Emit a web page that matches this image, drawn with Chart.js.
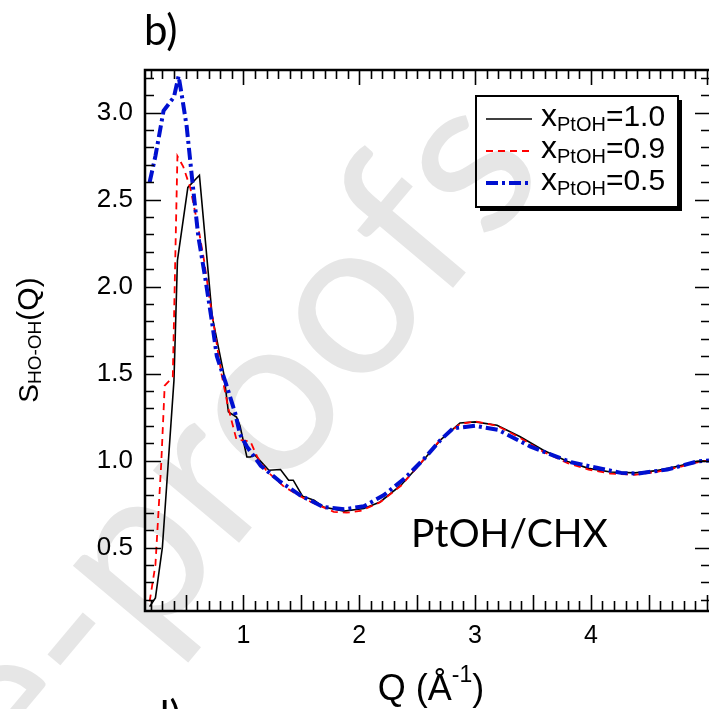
<!DOCTYPE html>
<html>
<head>
<meta charset="utf-8">
<script src="https://cdn.jsdelivr.net/npm/chart.js@4.4.0/dist/chart.umd.min.js"></script>
<style>
  html, body { margin: 0; padding: 0; background: #fff; }
  #wrap { width: 709px; height: 709px; position: relative; }
</style>
</head>
<body>
<div id="wrap"><canvas id="chart"></canvas></div>
<script>
// x_PtOH = 1.0 (black, solid)
const qPure = [0.19, 0.24, 0.30, 0.35, 0.40, 0.43, 0.52, 0.62, 0.73, 0.79, 0.83, 0.87, 0.94, 0.97, 1.03, 1.06, 1.10, 1.22, 1.32, 1.39, 1.43, 1.51, 1.61, 1.69, 1.87, 2.04, 2.18, 2.36, 2.53, 2.70, 2.87, 3.00, 3.19, 3.39, 3.59, 3.80, 3.98, 4.17, 4.38, 4.57, 4.76, 4.92, 5.02];
const sPure = [0.16, 0.21, 0.50, 0.98, 1.46, 2.15, 2.57, 2.64, 1.83, 1.63, 1.50, 1.28, 1.25, 1.20, 1.02, 1.02, 1.03, 0.944, 0.948, 0.887, 0.887, 0.795, 0.772, 0.733, 0.709, 0.724, 0.762, 0.858, 0.983, 1.117, 1.216, 1.222, 1.203, 1.137, 1.059, 0.994, 0.955, 0.934, 0.929, 0.942, 0.968, 0.995, 1.0];

// x_PtOH = 0.9 (red, dashed)
const qMix09 = [0.19, 0.24, 0.29, 0.32, 0.39, 0.43, 0.48, 0.54, 0.61, 0.66, 0.71, 0.81, 0.87, 0.94, 1.06, 1.12, 1.20, 1.35, 1.55, 1.78, 1.89, 2.01, 2.18, 2.36, 2.53, 2.70, 2.87, 3.00, 3.19, 3.39, 3.59, 3.80, 3.98, 4.17, 4.38, 4.57, 4.76, 4.92, 5.02];
const sMix09 = [0.19, 0.40, 0.98, 1.43, 1.48, 2.75, 2.69, 2.57, 2.34, 2.15, 1.92, 1.50, 1.30, 1.12, 1.11, 1.02, 0.94, 0.85, 0.772, 0.705, 0.700, 0.710, 0.760, 0.855, 0.985, 1.12, 1.21, 1.225, 1.20, 1.13, 1.05, 0.985, 0.948, 0.925, 0.918, 0.935, 0.962, 0.99, 1.0];

// x_PtOH = 0.5 (blue, dash-dot)
const qMix05 = [0.19, 0.24, 0.31, 0.40, 0.44, 0.47, 0.51, 0.555, 0.61, 0.67, 0.73, 0.77, 0.85, 0.93, 0.97, 1.03, 1.15, 1.32, 1.49, 1.69, 1.87, 2.04, 2.21, 2.39, 2.56, 2.70, 2.81, 3.00, 3.20, 3.48, 3.83, 4.26, 4.40, 4.66, 4.92, 5.02];
const sMix05 = [2.60, 2.75, 3.01, 3.09, 3.21, 3.09, 2.92, 2.63, 2.29, 2.05, 1.79, 1.60, 1.44, 1.27, 1.15, 1.08, 0.97, 0.877, 0.80, 0.733, 0.72, 0.737, 0.80, 0.896, 1.01, 1.117, 1.185, 1.20, 1.176, 1.08, 0.99, 0.929, 0.925, 0.948, 0.995, 1.0];

const seriesValues = ["1.0", "0.9", "0.5"];
const xTicks = [1, 2, 3, 4];
const yTicks = [0.5, 1.0, 1.5, 2.0, 2.5, 3.0];

const toPoints = (q, s) => q.map((v, i) => ({ x: v, y: s[i] }));

const sans = "'Liberation Sans', Arial, sans-serif";
const calib = "Lato, 'Open Sans', sans-serif";

// draws a text made of pieces with their own size and baseline shift
function richText(ctx, parts, x, y) {
  let cx = x;
  parts.forEach(p => {
    ctx.font = p.size + "px " + sans;
    ctx.fillText(p.t, cx, y + (p.dy || 0));
    cx += ctx.measureText(p.t).width;
  });
  return cx - x;
}
function richWidth(ctx, parts) {
  let w = 0;
  parts.forEach(p => { ctx.font = p.size + "px " + sans; w += ctx.measureText(p.t).width; });
  return w;
}

const decor = {
  id: "decor",
  beforeDraw(chart) {
    const ctx = chart.ctx;
    ctx.save();
    ctx.fillStyle = "#fff";
    ctx.fillRect(0, 0, chart.width, chart.height);
    // watermark
    ctx.fillStyle = "#e6e6e6";
    ctx.font = "222px " + calib;
    ctx.translate(550, 172);
    ctx.rotate(-50 * Math.PI / 180);
    ctx.textAlign = "right";
    ctx.fillText("Journal Pre-proofs", 0, 0);
    ctx.restore();
  },
  afterDraw(chart) {
    const ctx = chart.ctx;
    const a = chart.chartArea;
    const xs = chart.scales.x, ys = chart.scales.y;
    ctx.save();
    ctx.strokeStyle = "#000";
    ctx.fillStyle = "#000";

    // inward tick marks on all four sides
    ctx.lineWidth = 1.6;
    ctx.beginPath();
    for (let i = 2; i <= 50; i++) {
      const v = i / 10;
      const px = Math.round(xs.getPixelForValue(v)) + 0.5;
      const bot = (i % 5 === 0) ? 16 : 10;
      const top = (i % 10 === 0) ? 15 : 9;
      ctx.moveTo(px, a.bottom); ctx.lineTo(px, a.bottom - bot);
      ctx.moveTo(px, a.top); ctx.lineTo(px, a.top + top);
    }
    for (let i = 2; i <= 32; i++) {
      const v = i / 10;
      const py = Math.round(ys.getPixelForValue(v)) + 0.5;
      const len = (i % 5 === 0) ? 16 : 9;
      ctx.moveTo(a.left, py); ctx.lineTo(a.left + len, py);
      ctx.moveTo(a.right, py); ctx.lineTo(a.right - ((i % 5 === 0) ? 14 : 8), py);
    }
    ctx.stroke();

    // frame
    ctx.lineWidth = 2.5;
    ctx.beginPath();
    ctx.moveTo(a.right + 2, a.top); ctx.lineTo(a.left, a.top);
    ctx.lineTo(a.left, a.bottom); ctx.lineTo(a.right + 2, a.bottom);
    ctx.stroke();

    // legend box with shadow
    const L = { x: 476, y: 96, w: 202, h: 111 };
    ctx.fillRect(L.x + L.w, L.y + 4, 4, L.h);
    ctx.fillRect(L.x + 4, L.y + L.h, L.w, 4);
    ctx.lineWidth = 2;
    ctx.strokeRect(L.x, L.y, L.w, L.h);
    const rows = [126, 158, 190];
    chart.data.datasets.forEach((ds, i) => {
      const by = rows[i];
      ctx.save();
      ctx.strokeStyle = ds.borderColor;
      ctx.lineWidth = ds.borderWidth;
      ctx.setLineDash(ds.borderDash || []);
      ctx.beginPath();
      ctx.moveTo(486, by - 7); ctx.lineTo(532, by - 7);
      ctx.stroke();
      ctx.restore();
      ctx.textAlign = "left";
      ctx.textBaseline = "alphabetic";
      richText(ctx, [
        { t: "x", size: 32 },
        { t: "PtOH", size: 20, dy: 5 },
        { t: "=" + seriesValues[i], size: 30 }
      ], 541, by);
    });

    // y axis title
    ctx.save();
    ctx.translate(38, 340);
    ctx.rotate(-Math.PI / 2);
    const yParts = [
      { t: "S", size: 28 },
      { t: "HO-OH", size: 19, dy: 3 },
      { t: "(Q)", size: 30 }
    ];
    richText(ctx, yParts, -richWidth(ctx, yParts) / 2, 0);
    ctx.restore();

    // x axis title
    const xParts = [
      { t: "Q (Å", size: 36 },
      { t: "-1", size: 23, dy: -18 },
      { t: ")", size: 36 }
    ];
    richText(ctx, xParts, 431 - richWidth(ctx, xParts) / 2, 700);

    // panel labels and annotation
    ctx.font = "42px " + calib;
    ctx.fillText("b)", 144, 45);
    ctx.fillText("d)", 146, 731);
    ctx.font = "39px " + calib;
    ctx.fillText("PtOH/CHX", 411, 547);
    ctx.restore();
  }
};

const ctx = document.getElementById("chart").getContext("2d");
new Chart(ctx, {
  type: "line",
  data: {
    datasets: [
      {
        label: "x=1.0",
        data: toPoints(qPure, sPure),
        borderColor: "#000000",
        borderWidth: 1.6,
        order: 3
      },
      {
        label: "x=0.9",
        data: toPoints(qMix09, sMix09),
        borderColor: "#ff0000",
        borderWidth: 1.8,
        borderDash: [7, 5],
        order: 2
      },
      {
        label: "x=0.5",
        data: toPoints(qMix05, sMix05),
        borderColor: "#0010d0",
        borderWidth: 4,
        borderDash: [12, 4, 3, 4],
        order: 1
      }
    ]
  },
  options: {
    responsive: true,
    maintainAspectRatio: false,
    animation: false,
    layout: { padding: { left: 0, top: 70, right: 0, bottom: 0 } },
    elements: { point: { radius: 0 }, line: { tension: 0, fill: false } },
    plugins: { legend: { display: false }, tooltip: { enabled: false } },
    scales: {
      x: {
        type: "linear",
        min: 0.15,
        max: 5.02,
        grid: { display: false, drawTicks: false },
        border: { display: false },
        afterBuildTicks: s => { s.ticks = xTicks.map(v => ({ value: v })); },
        afterFit: s => { s.height = 98; },
        ticks: {
          padding: 10,
          color: "#000",
          font: { family: sans, size: 25 },
          maxRotation: 0,
          autoSkip: false
        }
      },
      y: {
        type: "linear",
        min: 0.135,
        max: 3.245,
        grid: { display: false, drawTicks: false },
        border: { display: false },
        afterBuildTicks: s => { s.ticks = yTicks.map(v => ({ value: v })); },
        afterFit: s => { s.width = 145; },
        ticks: {
          padding: 12,
          color: "#000",
          font: { family: sans, size: 26 },
          callback: v => Number(v).toFixed(1)
        }
      }
    }
  },
  plugins: [decor]
});
</script>
</body>
</html>
